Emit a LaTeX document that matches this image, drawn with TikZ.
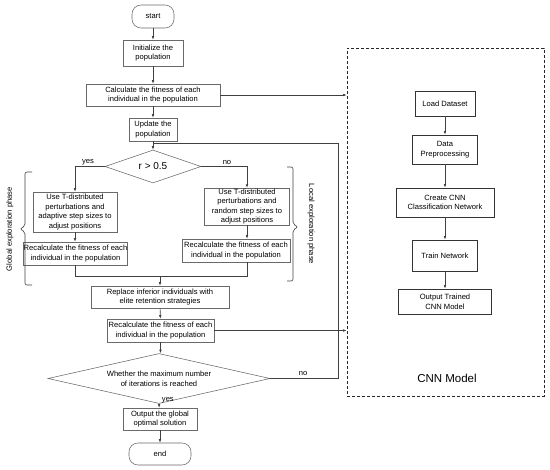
\documentclass[tikz,border=0pt]{standalone}
\usepackage{fontspec}
\setmainfont{Liberation Sans}
\usetikzlibrary{shapes.geometric,arrows.meta}

\begin{document}
\begin{tikzpicture}[x=1pt,y=-1pt,
  box/.style={draw={rgb,255:red,105;green,105;blue,105},line width=0.55pt,fill=white,inner sep=0.5pt,align=center,font=\fontsize{7.6}{9.6}\selectfont},
  term/.style={box,rounded corners=9pt},
  dia/.style={box,diamond,aspect=3,inner sep=0pt},
  cbox/.style={draw=black!80,line width=0.8pt,fill=white,inner sep=0.5pt,align=center,font=\fontsize{7.6}{9.6}\selectfont},
  flow/.style={draw=black!75,line width=0.6pt},
  arr/.style={flow,-{Latex[length=3.5pt,width=2.6pt]}},
  lbl/.style={inner sep=0.75pt,font=\fontsize{7.6}{9}\selectfont}]
\useasboundingbox (0,0) rectangle (550,470);

%Shape: dashed frame of the CNN part
\node [draw=black!85,dash pattern=on 3pt off 2pt,line width=0.7pt,minimum width=197pt,minimum height=348pt,inner sep=0pt] (cnn) at (445.5,222) {};
\node [font=\fontsize{11.5}{13}\selectfont] (cnnlbl) at (447,378) {CNN Model};

%Shape: main flow
\node [term,minimum width=42pt,minimum height=23pt] (start) at (153,16.5) {start};
\node [box,minimum width=60pt,minimum height=26pt] (init) at (153,53) {Initialize the\\population};
\node [box,minimum width=134pt,minimum height=22pt] (calc) at (153,95) {Calculate the fitness of each\\individual in the population};
\node [box,minimum width=48pt,minimum height=23pt] (upd) at (153,129.5) {Update the\\population};
\node [dia,minimum width=96pt,minimum height=33pt,font=\fontsize{10}{12}\selectfont] (dec1) at (153,166.5) {r > 0.5};

%Shape: two branches
\node [box,minimum width=84pt,minimum height=40pt] (glob) at (75,212) {Use T-distributed\\perturbations and\\adaptive step sizes to\\adjust positions};
\node [box,minimum width=101pt,minimum height=23pt] (recl) at (75.5,253.5) {Recalculate the fitness of each\\individual in the population};
\node [box,minimum width=85pt,minimum height=35pt] (loc) at (247,206.5) {Use T-distributed\\perturbations and\\random step sizes to\\adjust positions};
\node [box,minimum width=108pt,minimum height=23pt] (recr) at (236,250.5) {Recalculate the fitness of each\\individual in the population};

\node [box,minimum width=138pt,minimum height=22pt] (repl) at (160,297) {Replace inferior individuals with\\elite retention strategies};
\node [box,minimum width=107pt,minimum height=23pt] (rec) at (160.5,330.5) {Recalculate the fitness of each\\individual in the population};
\node [dia,minimum width=222pt,minimum height=33pt] (dec2) at (159,378.5) {Whether the maximum number\\of iterations is reached};
\node [box,minimum width=74pt,minimum height=22pt] (outg) at (160,419) {Output the global\\optimal solution};
\node [term,minimum width=62pt,minimum height=22pt] (stop) at (160,454) {end};

%Shape: CNN steps
\node [cbox,minimum width=60pt,minimum height=25pt] (load) at (445,103.5) {Load Dataset};
\node [cbox,minimum width=65pt,minimum height=29pt] (prep) at (445,149.5) {Data\\Preprocessing};
\node [cbox,minimum width=98pt,minimum height=29pt] (crt) at (445,202.5) {Create CNN\\Classification Network};
\node [cbox,minimum width=65pt,minimum height=31pt] (trn) at (445,255.5) {Train Network};
\node [cbox,minimum width=93pt,minimum height=25pt] (outm) at (445,301.5) {Output Trained\\CNN Model};

\coordinate (mg) at (160,276);
\coordinate (lp) at (338,143);

%Connectors
\draw [arr] (start) -- (init);
\draw [arr] (init) -- (calc);
\draw [arr] (calc) -- (upd);
\draw [arr] (upd) -- (dec1);
\draw [arr] (dec1.west) -| (glob.north);
\draw [arr] (dec1.east) -| (loc.north);
\draw [arr] (glob) -- (glob.south |- recl.north);
\draw [arr] (loc) -- (loc.south |- recr.north);
\draw [flow] (recl.south -| glob.south) |- (mg);
\draw [flow] (recr.south -| loc.south) |- (mg);
\draw [arr] (mg) -- (repl);
\draw [arr] (repl) -- (rec);
\draw [arr] (rec) -- (rec.south |- dec2.north);
\draw [arr] (dec2.south) -- (outg);
\draw [arr] (outg) -- (stop);
\draw [flow] (dec2.east) -| (lp) -- (upd.south |- lp);
\draw [arr] (calc.east) -- (calc.east -| cnn.west);
\draw [arr] (rec.east) -- (rec.east -| cnn.west);

\draw [arr] (load) -- (prep);
\draw [arr] (prep) -- (crt);
\draw [arr] (crt) -- (trn);
\draw [arr] (trn) -- (outm);

% Text Node
\node [lbl,anchor=south] (y1) at (88,166) {yes};
\node [lbl,anchor=south] (n1) at (227,166) {no};
\node [lbl,anchor=west] (y2) at (161,400) {yes};
\node [lbl,anchor=south] (n2) at (303,377) {no};

%Shape: phase brackets
\draw [draw=black!75,line width=0.6pt,rounded corners=2pt] (32,172) -- (25,172) -- (25,226) -- (20,229) -- (25,232) -- (25,285) -- (32,285);
\draw [draw=black!75,line width=0.6pt,rounded corners=2pt] (287,167) -- (293,167) -- (293,224) -- (298,227) -- (293,230) -- (293,281) -- (287,281);
\node [lbl,rotate=90] (gph) at (10,229) {Global exploration phase};
\node [lbl,rotate=-90] (lph) at (311,224) {Local exploration phase};
\end{tikzpicture}
\end{document}
